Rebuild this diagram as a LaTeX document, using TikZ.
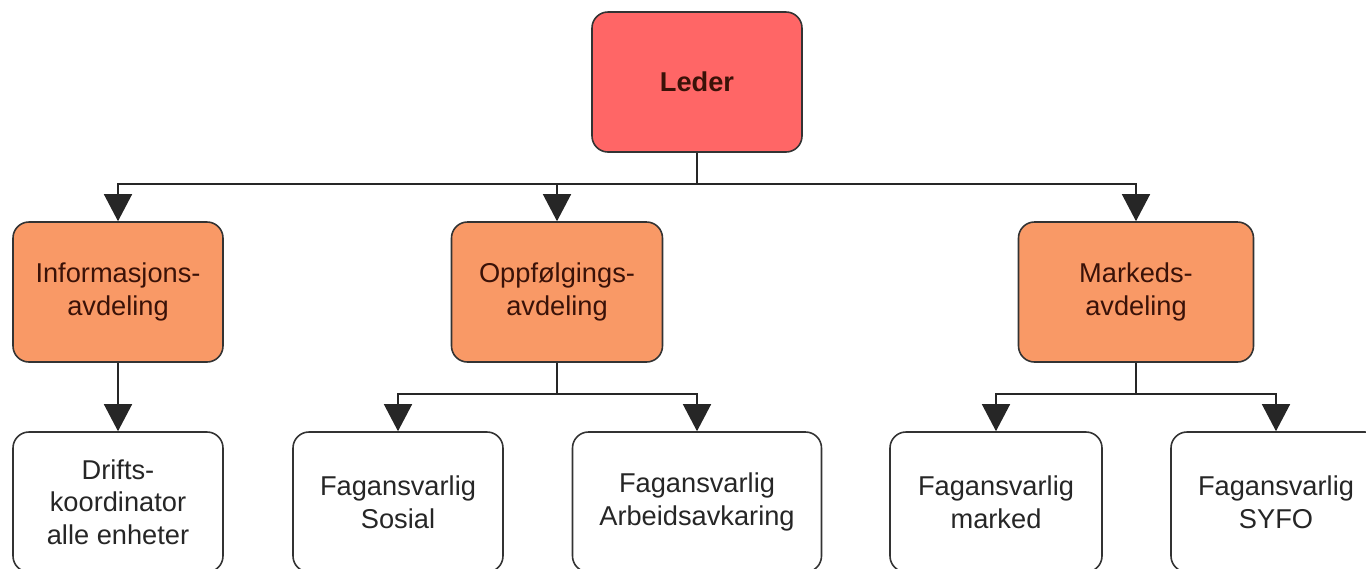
\documentclass[tikz,border=0pt]{standalone}
\usepackage{fontspec}
\setmainfont{Liberation Sans}
\usetikzlibrary{arrows.meta}
\definecolor{lederred}{HTML}{FF6666}
\definecolor{avdorange}{HTML}{F99966}
\definecolor{darktext}{HTML}{3A1208}

\begin{document}
\begin{tikzpicture}[
    box/.style={draw=black!80, line width=0.9pt, rounded corners=0.32cm,
      minimum width=4.2cm, minimum height=2.8cm, inner sep=0pt,
      align=center, font=\fontsize{15.5}{18.5}\selectfont},
    avd/.style={box, fill=avdorange, text=darktext},
    unit/.style={box, fill=white, text=black!85},
    arr/.style={line width=0.8pt, draw=black!85,
      -{Triangle[length=0.54cm, width=0.56cm]}}
  ]
  \useasboundingbox (0,0) rectangle (27.32,-11.36);
  \clip (0,0) rectangle (27.32,-11.36);
  % top
  \node [box, fill=lederred, text=darktext,
    font=\fontsize{15.5}{18.5}\selectfont\bfseries] (leder) at (13.94,-1.64) {Leder};
  % avdelinger
  \node [avd] (info) at (2.36,-5.84) {Informasjons-\\avdeling};
  \node [avd, minimum width=4.22cm] (oppf) at (11.14,-5.84) {Oppfølgings-\\avdeling};
  \node [avd, minimum width=4.7cm] (mark) at (22.72,-5.84) {Markeds-\\avdeling};
  % enheter
  \node [unit] (drift) at (2.36,-10.04) {Drifts-\\koordinator\\alle enheter};
  \node [unit] (sosial) at (7.96,-10.04) {Fagansvarlig\\Sosial};
  \node [unit, minimum width=4.98cm] (arbeid) at (13.94,-10.04) {Fagansvarlig\\Arbeidsavkaring};
  \node [unit, minimum width=4.24cm] (fmark) at (19.92,-10.04) {Fagansvarlig\\marked};
  \node [unit] (syfo) at (25.52,-10.04) {Fagansvarlig\\SYFO};
  % connectors
  \coordinate (lederbus) at ([yshift=-0.62cm]leder.south);
  \coordinate (oppfbus) at ([yshift=-0.62cm]oppf.south);
  \coordinate (markbus) at ([yshift=-0.62cm]mark.south);
  \draw [arr] (leder.south) -- (lederbus) -| (info.north);
  \draw [arr] (lederbus) -| (oppf.north);
  \draw [arr] (lederbus) -| (mark.north);
  \draw [arr] (info) -- (drift);
  \draw [arr] (oppf.south) -- (oppfbus) -| (sosial.north);
  \draw [arr] (oppfbus) -| (arbeid.north);
  \draw [arr] (mark.south) -- (markbus) -| (fmark.north);
  \draw [arr] (markbus) -| (syfo.north);
\end{tikzpicture}
\end{document}
